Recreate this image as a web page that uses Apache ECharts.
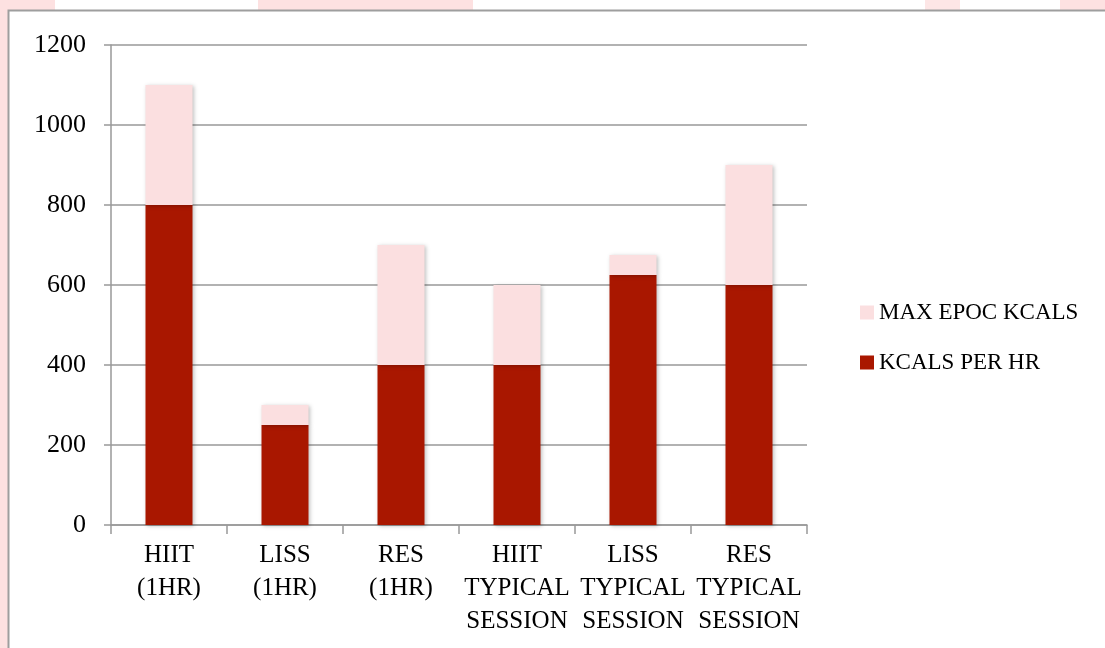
<!DOCTYPE html>
<html>
<head>
<meta charset="utf-8">
<script src="https://cdn.jsdelivr.net/npm/echarts@6/dist/echarts.min.js"></script>
<style>
  html, body { margin: 0; padding: 0; background: #fff; }
  #chart { width: 1105px; height: 648px; }
</style>
</head>
<body>
<div id="chart"></div>
<script>
const categories = ['HIIT\n(1HR)', 'LISS\n(1HR)', 'RES\n(1HR)', 'HIIT\nTYPICAL\nSESSION', 'LISS\nTYPICAL\nSESSION', 'RES\nTYPICAL\nSESSION'];
const kcalsPerHr = [800, 250, 400, 400, 625, 600];
const maxEpocKcals = [300, 50, 300, 200, 50, 300];
const yTicks = { min: 0, max: 1200, interval: 200 };

const FONT = '"Liberation Serif", "DejaVu Serif", serif';
const DARK = '#A91700';
const PINK = '#FBDFE0';

const chart = echarts.init(document.getElementById('chart'));

const barShadow = {
  shadowBlur: 4,
  shadowColor: 'rgba(0,0,0,0.25)',
  shadowOffsetX: 1,
  shadowOffsetY: 1
};

chart.setOption({
  animation: false,
  backgroundColor: '#fff',
  graphic: [
    // faint background strips outside the frame
    { type: 'rect', shape: { x: 0, y: 0, width: 8, height: 648 }, style: { fill: '#FDE1E1' }, z: -1 },
    { type: 'rect', shape: { x: 0, y: 0, width: 55, height: 10 }, style: { fill: '#FDE1E1' }, z: -1 },
    { type: 'rect', shape: { x: 258, y: 0, width: 215, height: 10 }, style: { fill: '#FDE1E1' }, z: -1 },
    { type: 'rect', shape: { x: 925, y: 0, width: 35, height: 10 }, style: { fill: '#FDE6E6' }, z: -1 },
    { type: 'rect', shape: { x: 1060, y: 0, width: 45, height: 10 }, style: { fill: '#FDE1E1' }, z: -1 },
    {
      type: 'rect',
      shape: { x: 8.5, y: 10.5, width: 1200, height: 700 },
      style: { fill: '#fff', stroke: '#9E9E9E', lineWidth: 2 },
      z: -1
    }
  ],
  grid: { left: 111, right: 298, top: 45, bottom: 123 },
  legend: {
    orient: 'vertical',
    left: 855,
    top: 296,
    itemWidth: 14,
    itemHeight: 14,
    itemGap: 27,
    icon: 'rect',
    data: ['MAX EPOC KCALS', 'KCALS PER HR'],
    textStyle: { fontFamily: FONT, fontSize: 23, color: '#000' }
  },
  xAxis: {
    type: 'category',
    data: categories,
    axisLine: { lineStyle: { color: '#999', width: 1.5 } },
    axisTick: { show: true, length: 9, lineStyle: { color: '#999', width: 1.5 } },
    axisLabel: {
      interval: 0,
      margin: 14,
      fontFamily: FONT,
      fontSize: 25,
      lineHeight: 33,
      color: '#000'
    }
  },
  yAxis: {
    type: 'value',
    min: yTicks.min,
    max: yTicks.max,
    interval: yTicks.interval,
    axisLine: { show: true, lineStyle: { color: '#999', width: 1.5 } },
    axisTick: { show: true, length: 7, lineStyle: { color: '#999', width: 1.5 } },
    splitLine: { lineStyle: { color: '#999', width: 1.5 } },
    axisLabel: {
      margin: 25,
      fontFamily: FONT,
      fontSize: 26,
      color: '#000',
      formatter: v => String(v)
    }
  },
  series: [
    {
      name: 'KCALS PER HR',
      type: 'bar',
      stack: 'total',
      barWidth: 47,
      data: kcalsPerHr,
      itemStyle: Object.assign({ color: DARK }, barShadow)
    },
    {
      name: 'MAX EPOC KCALS',
      type: 'bar',
      stack: 'total',
      barWidth: 47,
      data: maxEpocKcals,
      itemStyle: Object.assign({ color: PINK }, barShadow)
    }
  ]
});
</script>
</body>
</html>
